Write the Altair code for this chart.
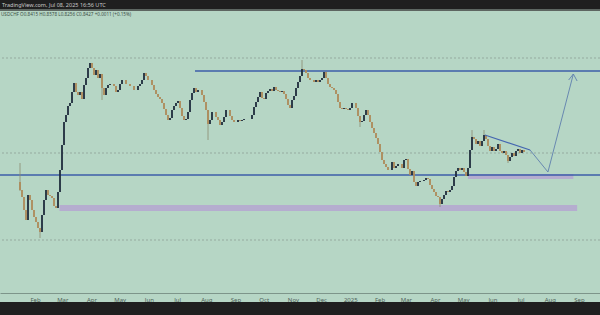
import altair as alt
import pandas as pd

# ---------------- data ----------------
first_open = 0.8290
closes = [
    0.8250, 0.8215, 0.8150, 0.8100, 0.8225, 0.8200, 0.8150, 0.8115, 0.8090, 0.8060,
    0.8040, 0.8125, 0.8200, 0.8250, 0.8225, 0.8220, 0.8210, 0.8170, 0.8160, 0.8240,
    0.8350, 0.8475, 0.8590, 0.8625, 0.8670, 0.8685, 0.8740, 0.8785, 0.8740, 0.8725,
    0.8740, 0.8705, 0.8775, 0.8810, 0.8860, 0.8885, 0.8860, 0.8825, 0.8850, 0.8810,
    0.8830, 0.8760, 0.8725, 0.8760, 0.8775, 0.8780, 0.8780, 0.8770, 0.8740, 0.8750,
    0.8780, 0.8800, 0.8800, 0.8780, 0.8780, 0.8770, 0.8770, 0.8750, 0.8750, 0.8770,
    0.8780, 0.8800, 0.8835, 0.8820, 0.8800, 0.8800, 0.8775, 0.8750, 0.8730, 0.8715,
    0.8705, 0.8685, 0.8655, 0.8625, 0.8600, 0.8610, 0.8650, 0.8670, 0.8685, 0.8695,
    0.8660, 0.8620, 0.8600, 0.8605, 0.8640, 0.8700, 0.8735, 0.8760, 0.8740, 0.8750,
    0.8750, 0.8725, 0.8690, 0.8650, 0.8580, 0.8600, 0.8640, 0.8640, 0.8615, 0.8600,
    0.8575, 0.8590, 0.8615, 0.8650, 0.8650, 0.8620, 0.8600, 0.8590, 0.8590, 0.8600,
    0.8595, 0.8600, 0.8605, 0.8605, 0.8605, 0.8605, 0.8625, 0.8665, 0.8690, 0.8715,
    0.8740, 0.8710, 0.8705, 0.8735, 0.8745, 0.8755, 0.8745, 0.8765, 0.8750, 0.8745,
    0.8740, 0.8745, 0.8730, 0.8705, 0.8675, 0.8660, 0.8700, 0.8720, 0.8760, 0.8790,
    0.8820, 0.8855, 0.8850, 0.8835, 0.8810, 0.8800, 0.8800, 0.8790, 0.8800, 0.8790,
    0.8800, 0.8810, 0.8840, 0.8810, 0.8780, 0.8765, 0.8760, 0.8750, 0.8730, 0.8690,
    0.8660, 0.8655, 0.8660, 0.8655, 0.8650, 0.8660, 0.8685, 0.8685, 0.8660, 0.8620,
    0.8590, 0.8595, 0.8625, 0.8650, 0.8625, 0.8590, 0.8560, 0.8535, 0.8510, 0.8480,
    0.8440, 0.8400, 0.8380, 0.8365, 0.8350, 0.8350, 0.8390, 0.8360, 0.8370, 0.8380,
    0.8380, 0.8360, 0.8400, 0.8405, 0.8355, 0.8325, 0.8345, 0.8290, 0.8270, 0.8290,
    0.8295, 0.8295, 0.8300, 0.8310, 0.8305, 0.8275, 0.8255, 0.8240, 0.8220, 0.8215,
    0.8180, 0.8205, 0.8225, 0.8245, 0.8240, 0.8250, 0.8270, 0.8315, 0.8345, 0.8360,
    0.8350, 0.8360, 0.8340, 0.8320, 0.8360, 0.8450, 0.8515, 0.8505, 0.8480, 0.8495,
    0.8470, 0.8495, 0.8525, 0.8505, 0.8470, 0.8445, 0.8465, 0.8445, 0.8455, 0.8480,
    0.8445, 0.8435, 0.8445, 0.8425, 0.8395, 0.8415, 0.8435, 0.8420, 0.8445, 0.8455,
    0.8435, 0.8450, 0.8440,
]
candle_start = "2024-01-16T01:30:00"
candle_step_hours = 51

wick_index = [0, 10, 41, 94, 141, 170, 210, 226, 232, 244]
wick_high = [0.8385, 0.8060, 0.8830, 0.8650, 0.8900, 0.8620, 0.8215, 0.8550, 0.8550, 0.8425]
wick_low = [0.8245, 0.8010, 0.8700, 0.8500, 0.8820, 0.8565, 0.8165, 0.8450, 0.8495, 0.8385]

# horizontal levels
level_top_price = 0.8845
level_top_start = "2024-07-20"
level_low_price = 0.8325
dashed_levels = [0.8910, 0.8435, 0.8000]

# zones (purple boxes)
zone_start = ["2024-02-27", "2025-05-06"]
zone_end = ["2025-08-30", "2025-08-26"]
zone_top = [0.8175, 0.8330]
zone_bottom = [0.8145, 0.8305]

# drawings
trend_dates = ["2025-05-24", "2025-07-11"]
trend_prices = [0.8525, 0.8450]
path_dates = ["2025-07-11", "2025-07-30", "2025-08-26"]
path_prices = [0.8450, 0.8340, 0.8830]
head_dates = ["2025-08-21", "2025-08-26", "2025-08-30"]
head_prices = [0.8800, 0.8830, 0.8795]

month_ticks = [
    "2024-02-01", "2024-03-01", "2024-04-01", "2024-05-01", "2024-06-01", "2024-07-01",
    "2024-08-01", "2024-09-01", "2024-10-01", "2024-11-01", "2024-12-01", "2025-01-01",
    "2025-02-01", "2025-03-01", "2025-04-01", "2025-05-01", "2025-06-01", "2025-07-01",
    "2025-08-01", "2025-09-01",
]

header_line = "TradingView.com, Jul 08, 2025 16:56 UTC"
symbol_line = "USDCHF O0.8415 H0.8578 L0.8256 C0.8427 +0.0011 (+0.15%)"

# ---------------- build tables ----------------
dates = pd.date_range(candle_start, periods=len(closes), freq=f"{candle_step_hours}h")
opens = [first_open] + closes[:-1]
candles = pd.DataFrame({
    "date": [d.strftime("%Y-%m-%dT%H:%M:%SZ") for d in dates],
    "open": opens,
    "close": closes,
})
wicks = pd.DataFrame({
    "date": [candles["date"][i] for i in wick_index],
    "high": wick_high,
    "low": wick_low,
})

def z(s):
    return s + "T00:00:00Z" if "T" not in s else s

BG = "#b6d6c5"
UP = "#1e2c3c"
DOWN = "#ad8a58"
BLUE = "#3d5ea8"

xscale = alt.Scale(type="utc", domain=["2023-12-25T19:26:00Z", "2025-09-23T07:26:00Z"],
                   padding=0)
yscale = alt.Scale(domain=[0.7735, 0.9145], zero=False, nice=False)
xaxis = alt.Axis(values=[z(m) for m in month_ticks], title=None, grid=False,
                 ticks=False, domain=True, domainColor="#7d958a", domainWidth=1,
                 labelColor="#4f6158", labelFontSize=6, labelPadding=3,
                 labelFont="Noto Sans", labelFlush=False, labelOverlap=False,
                 labelExpr="utcmonth(datum.value)==0 ? utcFormat(datum.value,'%Y') : utcFormat(datum.value,'%b')")


def xenc(field):
    return alt.X(field, scale=xscale, axis=xaxis)


def yenc(field):
    return alt.Y(field, scale=yscale, axis=None)


base_data = alt.Data(values=[{}])

zones = alt.Chart(pd.DataFrame({
    "s": [z(s) for s in zone_start], "e": [z(e) for e in zone_end],
    "t": zone_top, "b": zone_bottom})).mark_rect(color="#b5adcf").encode(
    x=xenc("s:T"), x2="e:T", y=yenc("t:Q"), y2="b:Q")

dashed = alt.Chart(pd.DataFrame({"p": dashed_levels})).mark_rule(
    color="#95aa9f", strokeWidth=1, strokeDash=[2, 2]).encode(y=yenc("p:Q"))

low_line = alt.Chart(pd.DataFrame({"p": [level_low_price]})).mark_rule(
    color=BLUE, strokeWidth=1.3).encode(y=yenc("p:Q"))

top_line = alt.Chart(pd.DataFrame({"s": [z(level_top_start)], "e": ["2025-09-23T07:26:00Z"],
                                   "p": [level_top_price]})).mark_rule(
    color=BLUE, strokeWidth=1.3).encode(x=xenc("s:T"), x2="e:T", y=yenc("p:Q"))

wick_layer = alt.Chart(wicks).mark_rule(strokeWidth=0.8, color="#8a8a70").encode(
    x=xenc("date:T"), y=yenc("high:Q"), y2="low:Q")

bodies = alt.Chart(candles).mark_bar(width=1.8).encode(
    x=xenc("date:T"), y=yenc("open:Q"), y2="close:Q",
    color=alt.condition("datum.close >= datum.open", alt.value(UP), alt.value(DOWN)))

trend = alt.Chart(pd.DataFrame({"d": [z(d) for d in trend_dates], "p": trend_prices})).mark_line(
    color="#4466b0", strokeWidth=1.2).encode(x=xenc("d:T"), y=yenc("p:Q"))

path = alt.Chart(pd.DataFrame({"d": [z(d) for d in path_dates], "p": path_prices,
                               "o": list(range(len(path_dates)))})).mark_line(
    color="#5f7fae", strokeWidth=0.9).encode(x=xenc("d:T"), y=yenc("p:Q"), order="o:O")

head = alt.Chart(pd.DataFrame({"d": [z(d) for d in head_dates], "p": head_prices,
                               "o": list(range(len(head_dates)))})).mark_line(
    color="#5f7fae", strokeWidth=0.9).encode(x=xenc("d:T"), y=yenc("p:Q"), order="o:O")

top_bar = alt.Chart(base_data).mark_rect(color="#1f1f1f").encode(
    x=alt.value(0), x2=alt.value(600), y=alt.value(-11), y2=alt.value(-2))
top_strip = alt.Chart(base_data).mark_rect(color="#5d6661").encode(
    x=alt.value(0), x2=alt.value(600), y=alt.value(-2), y2=alt.value(0))
bottom_bar = alt.Chart(base_data).mark_rect(color="#1f1f1f").encode(
    x=alt.value(0), x2=alt.value(600), y=alt.value(291), y2=alt.value(310))

header = alt.Chart(base_data).mark_text(
    text=header_line, align="left", baseline="middle", fontSize=5.5,
    font="Noto Sans", color="#c9c9c9").encode(x=alt.value(2), y=alt.value(-6))
symbol = alt.Chart(base_data).mark_text(
    text=symbol_line, align="left", baseline="middle", fontSize=4.6,
    font="Noto Sans", color="#3d4f45").encode(x=alt.value(1), y=alt.value(4))

chart = alt.layer(
    zones, dashed, low_line, top_line, wick_layer, bodies, trend, path, head,
    top_bar, top_strip, bottom_bar, header, symbol,
).properties(
    width=600, height=282,
    background=BG,
    padding={"top": 11, "bottom": 22, "left": 0, "right": 0},
    autosize=alt.AutoSizeParams(type="none"),
).configure_view(stroke=None, fill=BG)

chart.save("out.html", embed_options={"renderer": "svg", "actions": False})
